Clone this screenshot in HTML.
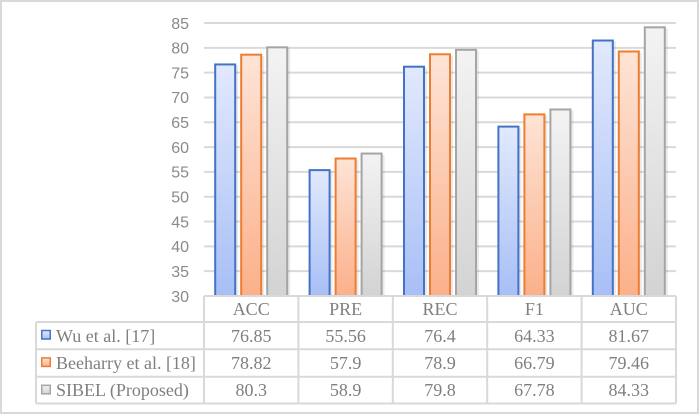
<!DOCTYPE html>
<html>
<head>
<meta charset="utf-8">
<style>
html,body{margin:0;padding:0;background:#fff;}
svg{display:block;}
.tick{font-family:"Liberation Sans",Arial,sans-serif;font-size:16px;fill:#8a8a8a;text-anchor:end;}
.tb{font-family:"Liberation Serif","Times New Roman",serif;font-size:18px;fill:#7f7f7f;text-anchor:middle;}
.lg{font-family:"Liberation Serif","Times New Roman",serif;font-size:18px;fill:#7f7f7f;}
</style>
</head>
<body>
<svg width="700" height="415" viewBox="0 0 700 415" xmlns="http://www.w3.org/2000/svg">
<defs>
<linearGradient id="gb" x1="0" y1="0" x2="0" y2="1"><stop offset="0" stop-color="#e1e9fd"/><stop offset="1" stop-color="#a8bff6"/></linearGradient>
<linearGradient id="go" x1="0" y1="0" x2="0" y2="1"><stop offset="0" stop-color="#fee4d6"/><stop offset="1" stop-color="#fbb08a"/></linearGradient>
<linearGradient id="gg" x1="0" y1="0" x2="0" y2="1"><stop offset="0" stop-color="#f3f3f3"/><stop offset="1" stop-color="#d3d3d3"/></linearGradient>
</defs>
<rect x="0" y="0" width="700" height="415" fill="#fff"/>
<rect x="1" y="1" width="697" height="412" fill="none" stroke="#d9d9d9" stroke-width="2"/>

<!-- gridlines -->
<g stroke="#d9d9d9" stroke-width="2">
<line x1="204" x2="676" y1="23" y2="23"/>
<line x1="204" x2="676" y1="47.82" y2="47.82"/>
<line x1="204" x2="676" y1="72.64" y2="72.64"/>
<line x1="204" x2="676" y1="97.45" y2="97.45"/>
<line x1="204" x2="676" y1="122.27" y2="122.27"/>
<line x1="204" x2="676" y1="147.09" y2="147.09"/>
<line x1="204" x2="676" y1="171.91" y2="171.91"/>
<line x1="204" x2="676" y1="196.73" y2="196.73"/>
<line x1="204" x2="676" y1="221.55" y2="221.55"/>
<line x1="204" x2="676" y1="246.36" y2="246.36"/>
<line x1="204" x2="676" y1="271.18" y2="271.18"/>
</g>

<!-- tick labels -->
<g class="tick">
<text x="189" y="28.8">85</text>
<text x="189" y="53.6">80</text>
<text x="189" y="78.4">75</text>
<text x="189" y="103.2">70</text>
<text x="189" y="128.1">65</text>
<text x="189" y="152.9">60</text>
<text x="189" y="177.7">55</text>
<text x="189" y="202.5">50</text>
<text x="189" y="227.3">45</text>
<text x="189" y="252.2">40</text>
<text x="189" y="277">35</text>
<text x="189" y="301.8">30</text>
</g>

<!-- shadows -->
<g fill="#000" opacity="0.08">
<rect x="217.2" y="65.45" width="21" height="231"/>
<rect x="243.2" y="55.68" width="21" height="241"/>
<rect x="269.2" y="48.33" width="21" height="248"/>
<rect x="311.6" y="171.13" width="21" height="125"/>
<rect x="337.6" y="159.52" width="21" height="137"/>
<rect x="363.6" y="154.55" width="21" height="142"/>
<rect x="406" y="67.69" width="21" height="229"/>
<rect x="432" y="55.28" width="21" height="241"/>
<rect x="458" y="50.81" width="21" height="246"/>
<rect x="500.4" y="127.6" width="21" height="169"/>
<rect x="526.4" y="115.39" width="21" height="181"/>
<rect x="552.4" y="110.48" width="21" height="186"/>
<rect x="594.8" y="41.53" width="21" height="255"/>
<rect x="620.8" y="52.5" width="21" height="244"/>
<rect x="646.8" y="28.33" width="21" height="268"/>
</g>

<!-- bars -->
<g stroke-width="2">
<rect x="215.2" y="64.45" width="20" height="231.55" fill="url(#gb)" stroke="#4472c4"/>
<rect x="241.2" y="54.68" width="20" height="241.32" fill="url(#go)" stroke="#ed7d31"/>
<rect x="267.2" y="47.33" width="20" height="248.67" fill="url(#gg)" stroke="#a5a5a5"/>

<rect x="309.6" y="170.13" width="20" height="125.87" fill="url(#gb)" stroke="#4472c4"/>
<rect x="335.6" y="158.52" width="20" height="137.48" fill="url(#go)" stroke="#ed7d31"/>
<rect x="361.6" y="153.55" width="20" height="142.45" fill="url(#gg)" stroke="#a5a5a5"/>

<rect x="404" y="66.69" width="20" height="229.31" fill="url(#gb)" stroke="#4472c4"/>
<rect x="430" y="54.28" width="20" height="241.72" fill="url(#go)" stroke="#ed7d31"/>
<rect x="456" y="49.81" width="20" height="246.19" fill="url(#gg)" stroke="#a5a5a5"/>

<rect x="498.4" y="126.6" width="20" height="169.4" fill="url(#gb)" stroke="#4472c4"/>
<rect x="524.4" y="114.39" width="20" height="181.61" fill="url(#go)" stroke="#ed7d31"/>
<rect x="550.4" y="109.48" width="20" height="186.52" fill="url(#gg)" stroke="#a5a5a5"/>

<rect x="592.8" y="40.53" width="20" height="255.47" fill="url(#gb)" stroke="#4472c4"/>
<rect x="618.8" y="51.5" width="20" height="244.5" fill="url(#go)" stroke="#ed7d31"/>
<rect x="644.8" y="27.33" width="20" height="268.67" fill="url(#gg)" stroke="#a5a5a5"/>
</g>

<!-- table background -->
<rect x="204" y="296" width="472" height="108" fill="#fff"/>
<rect x="36" y="322" width="168" height="82" fill="#fff"/>

<!-- table lines -->
<g stroke="#d9d9d9" stroke-width="2">
<line x1="204" x2="676" y1="296" y2="296"/>
<line x1="36" x2="676" y1="322" y2="322"/>
<line x1="36" x2="676" y1="349.3" y2="349.3"/>
<line x1="36" x2="676" y1="376.7" y2="376.7"/>
<line x1="36" x2="676" y1="403.5" y2="403.5"/>
<line x1="36" x2="36" y1="322" y2="403.5"/>
<line x1="204" x2="204" y1="296" y2="403.5"/>
<line x1="298.4" x2="298.4" y1="296" y2="403.5"/>
<line x1="392.8" x2="392.8" y1="296" y2="403.5"/>
<line x1="487.2" x2="487.2" y1="296" y2="403.5"/>
<line x1="581.6" x2="581.6" y1="296" y2="403.5"/>
<line x1="676" x2="676" y1="296" y2="403.5"/>
</g>

<!-- header -->
<g class="tb">
<text x="251.2" y="315">ACC</text>
<text x="345.6" y="315">PRE</text>
<text x="440" y="315">REC</text>
<text x="534.4" y="315">F1</text>
<text x="628.8" y="315">AUC</text>

<text x="251.2" y="342">76.85</text>
<text x="345.6" y="342">55.56</text>
<text x="440" y="342">76.4</text>
<text x="534.4" y="342">64.33</text>
<text x="628.8" y="342">81.67</text>

<text x="251.2" y="369">78.82</text>
<text x="345.6" y="369">57.9</text>
<text x="440" y="369">78.9</text>
<text x="534.4" y="369">66.79</text>
<text x="628.8" y="369">79.46</text>

<text x="251.2" y="396">80.3</text>
<text x="345.6" y="396">58.9</text>
<text x="440" y="396">79.8</text>
<text x="534.4" y="396">67.78</text>
<text x="628.8" y="396">84.33</text>
</g>

<!-- legend keys -->
<g stroke-width="1.5">
<rect x="41.75" y="330.5" width="8.5" height="8.5" fill="url(#gb)" stroke="#4472c4"/>
<rect x="41.75" y="357.9" width="8.5" height="8.5" fill="url(#go)" stroke="#ed7d31"/>
<rect x="41.75" y="385.3" width="8.5" height="8.5" fill="url(#gg)" stroke="#a5a5a5"/>
</g>
<g class="lg">
<text x="56" y="342">Wu et al. [17]</text>
<text x="56" y="369">Beeharry et al. [18]</text>
<text x="56" y="396">SIBEL (Proposed)</text>
</g>
</svg>
</body>
</html>
